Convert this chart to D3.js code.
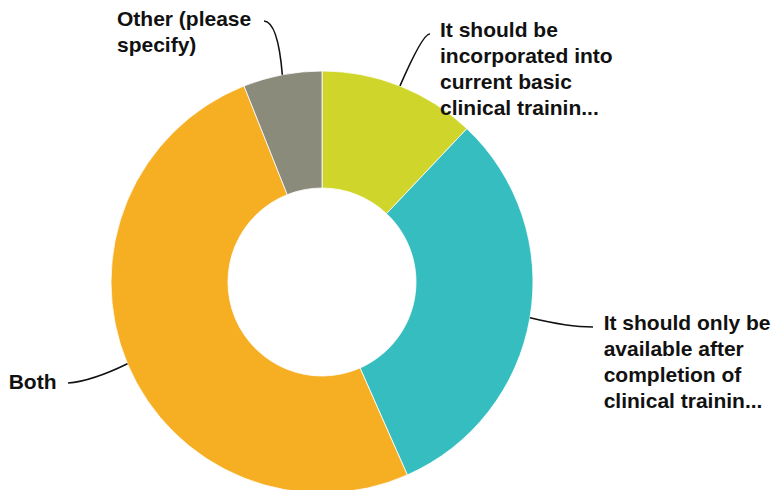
<!DOCTYPE html>
<html>
<head>
<meta charset="utf-8">
<script src="https://cdn.jsdelivr.net/npm/d3@7/dist/d3.min.js"></script>
<style>
  html, body { margin: 0; padding: 0; background: #fff; }
  svg { display: block; }
  text { font-family: "Liberation Sans", Arial, Helvetica, sans-serif; font-weight: bold; fill: #111; }
</style>
</head>
<body>
<svg id="chart" width="775" height="490"></svg>
<script>
// Data
const categories = [
  "It should be incorporated into current basic clinical trainin...",
  "It should only be available after completion of clinical trainin...",
  "Both",
  "Other (please specify)"
];
const values = [10, 26, 42, 5];
const colors = ["#cfd52b", "#35bdbf", "#f6ae22", "#8b8b7b"];
const labelLines = [
  ["It should be", "incorporated into", "current basic", "clinical trainin..."],
  ["It should only be", "available after", "completion of", "clinical trainin..."],
  ["Both"],
  ["Other (please", "specify)"]
];

const svg = d3.select("#chart");
const cx = 322, cy = 282, rOuter = 211, rInner = 94;
const g = svg.append("g").attr("transform", `translate(${cx},${cy})`);

const pie = d3.pie().sort(null).value(d => d);
const arcs = pie(values);
const arc = d3.arc().innerRadius(rInner).outerRadius(rOuter);

g.selectAll("path.slice")
  .data(arcs)
  .enter().append("path")
  .attr("class", "slice")
  .attr("d", arc)
  .attr("fill", (d, i) => colors[i])
  .attr("stroke", "#fff")
  .attr("stroke-width", 0.8);

// label layout (positions relative to svg)
const labelPos = [
  { x: 440, y: 37, anchor: "start", end: [430, 34], ctrl: [423, 33] },
  { x: 603.7, y: 330, anchor: "start", end: [593, 327], ctrl: [568, 327] },
  { x: 8.7, y: 389, anchor: "start", end: [68, 383], ctrl: [92, 381] },
  { x: 117, y: 26, anchor: "start", end: [264, 21], ctrl: [278, 22] }
];
const lineH = 26;

arcs.forEach((a, i) => {
  const mid = (a.startAngle + a.endAngle) / 2;
  const sx = cx + rOuter * Math.sin(mid);
  const sy = cy - rOuter * Math.cos(mid);
  const lp = labelPos[i];
  const p = d3.path();
  p.moveTo(sx, sy);
  p.quadraticCurveTo(lp.ctrl[0], lp.ctrl[1], lp.end[0], lp.end[1]);
  svg.append("path")
    .attr("d", p.toString())
    .attr("fill", "none")
    .attr("stroke", "#111")
    .attr("stroke-width", 1.6);

  const t = svg.append("text")
    .attr("x", lp.x)
    .attr("y", lp.y)
    .attr("text-anchor", lp.anchor)
    .style("font-size", "21px");
  labelLines[i].forEach((ln, k) => {
    t.append("tspan").attr("x", lp.x).attr("y", lp.y + k * lineH).text(ln);
  });
});
</script>
</body>
</html>
